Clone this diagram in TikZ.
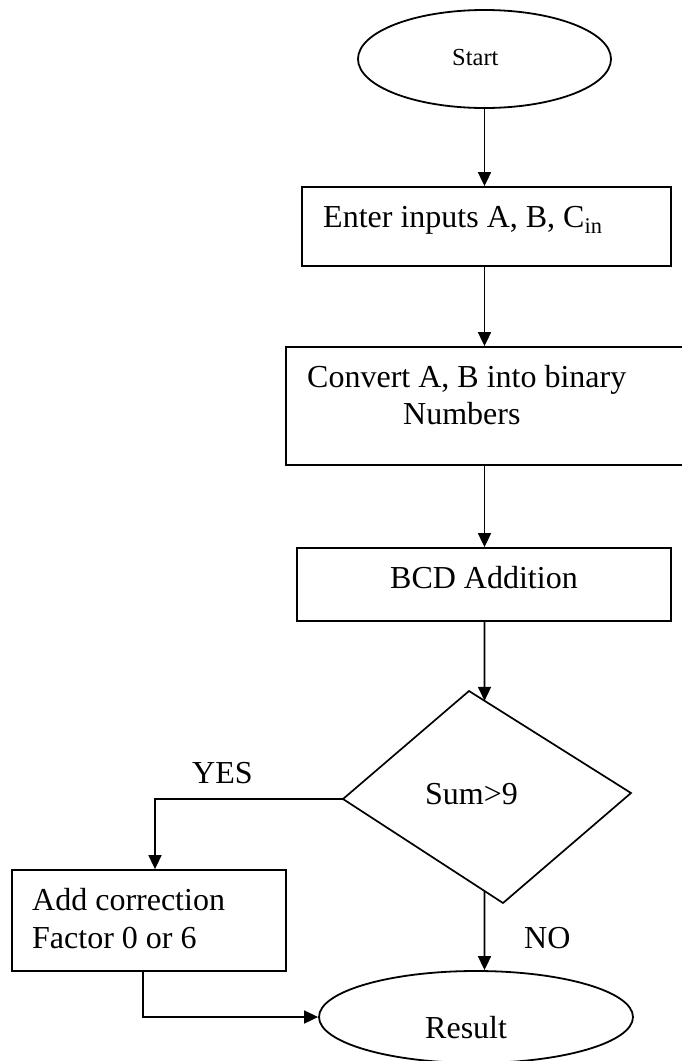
\documentclass[tikz,border=0pt]{standalone}
\usepackage{fontspec}
\setmainfont{Liberation Serif}
\usetikzlibrary{arrows.meta,shapes.geometric}
\tikzset{
  conn/.style={line width=1.7pt, -{Triangle[length=14pt,width=13pt]}},
  boxnode/.style={draw, line width=1.8pt, rectangle, inner sep=0pt},
  ovalnode/.style={draw, line width=1.8pt, ellipse, inner sep=0pt},
  txt/.style={anchor=base west, inner sep=0pt, font=\fontsize{32}{38}\selectfont},
  smalltxt/.style={anchor=base west, inner sep=0pt, font=\fontsize{24.5}{28}\selectfont},
}
\begin{document}
\begin{tikzpicture}[x=1pt,y=-1pt]
\useasboundingbox (0,0) rectangle (682,1061);

% shapes
\node[ovalnode, minimum width=253pt, minimum height=98pt] (start) at (484.5,59) {};
\node[boxnode, minimum width=369pt, minimum height=79pt] (box1) at (486.5,226.5) {};
\node[boxnode, minimum width=397pt, minimum height=118pt] (box2) at (484.5,406) {};
\node[boxnode, minimum width=374pt, minimum height=73pt] (box3) at (484,584.5) {};
\coordinate (dt) at (469,691);
\coordinate (dr) at (631,793);
\coordinate (db) at (503,903);
\coordinate (dl) at (343,799);
\draw[line width=1.7pt, line join=miter] (dt) -- (dr) -- (db) -- (dl) -- cycle;
\node[boxnode, minimum width=274pt, minimum height=101pt] (box4) at (149,920.5) {};
\node[ovalnode, minimum width=314pt, minimum height=92pt] (result) at (476,1017) {};

% texts
\node[smalltxt] (tstart) at (452,65) {Start};
\node[txt] (t1) at (323,227) {Enter inputs A, B, C\textsubscript{in}};
\node[txt] (t2a) at (307,387) {Convert A, B into binary};
\node[txt] (t2b) at (403,424) {Numbers};
\node[txt] (t3) at (390,588) {BCD Addition};
\node[txt] (tsum) at (425,804) {Sum>9};
\node[txt] (tyes) at (192,783) {YES};
\node[txt] (t4a) at (32,910) {Add correction};
\node[txt] (t4b) at (32,948) {Factor 0 or 6};
\node[txt] (tno) at (524,948) {NO};
\node[txt] (tres) at (425,1038) {Result};

% connectors
\draw[conn] (start.south) -- (start.south |- box1.north);
\draw[conn] (box1.south -| start.south) -- (box2.north -| start.south);
\draw[conn] (box2.south -| start.south) -- (box3.north -| start.south);
\draw[conn] (box3.south -| start.south) -- (intersection of dt--dr and start.south--start.north);
\coordinate (yc) at (155,799);
\draw[conn] (dl) -- (yc) -- (yc |- box4.north);
\draw[conn] (intersection of dl--db and start.south--start.north) -- (start.south |- result.north);
\coordinate (bc) at (143,1017);
\draw[conn] (bc |- box4.south) -- (bc) -- (result.west);
\end{tikzpicture}
\end{document}
